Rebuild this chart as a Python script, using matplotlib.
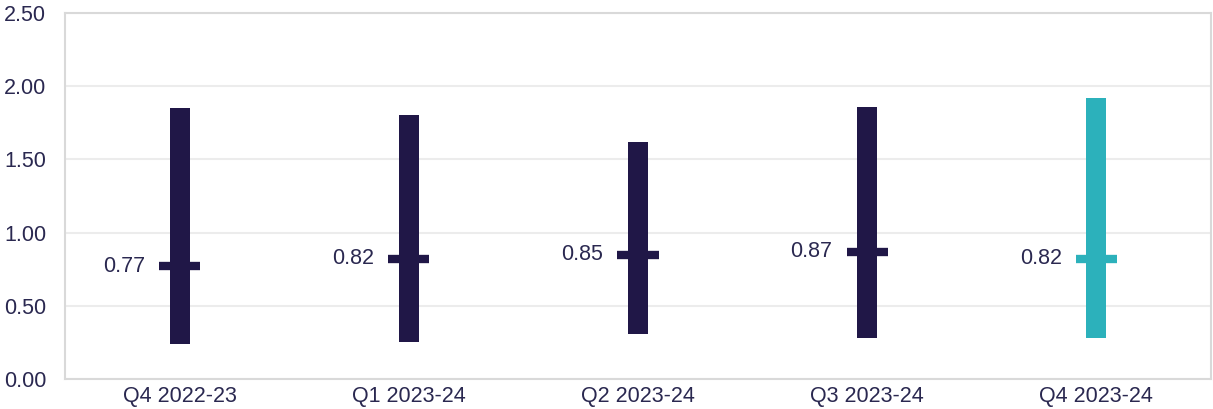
import matplotlib
matplotlib.use("Agg")
import matplotlib.pyplot as plt
import numpy as np

categories = ["Q4 2022-23", "Q1 2023-24", "Q2 2023-24", "Q3 2023-24", "Q4 2023-24"]
highs = [1.85, 1.80, 1.62, 1.86, 1.92]
lows = [0.24, 0.25, 0.305, 0.28, 0.28]
medians = [0.77, 0.82, 0.85, 0.87, 0.82]
colors = ["#201747", "#201747", "#201747", "#201747", "#2cb1bb"]

plt.rcParams["font.family"] = ["Liberation Sans", "DejaVu Sans"]
text_color = "#2a2850"

fig = plt.figure(figsize=(12.13, 4.09), dpi=100)
ax = fig.add_axes([65/1213, 1-379/409, (1211-65)/1213, (379-13)/409])

x = np.arange(len(categories))
ax.bar(x, np.array(highs) - np.array(lows), bottom=lows, width=0.087,
       color=colors, zorder=3)
for xi, m, c in zip(x, medians, colors):
    ax.hlines(m, xi - 0.09, xi + 0.09, colors=c, linewidth=6, zorder=4,
              capstyle="butt")
    ax.annotate(f"{m:.2f}", (xi, m), xytext=(-25, 0), textcoords="offset points",
                ha="right", va="center", fontsize=15.5, color=text_color)

ax.set_xlim(-0.5, len(categories) - 0.5)
ax.set_ylim(0, 2.5)
ax.set_yticks(np.arange(0, 2.51, 0.5))
ax.set_yticklabels([f"{v:.2f}" for v in np.arange(0, 2.51, 0.5)])
ax.set_xticks(x)
ax.set_xticklabels(categories)
ax.tick_params(axis="both", length=0, labelsize=15.5, labelcolor=text_color)
ax.tick_params(axis="y", pad=13.5)
ax.tick_params(axis="x", pad=5)
ax.yaxis.grid(True, color="#ececec", linewidth=1.5, zorder=0)
ax.set_axisbelow(True)
for s in ax.spines.values():
    s.set_color("#d9d9d9")
    s.set_linewidth(1.5)

fig.savefig("out.png", dpi=100)
